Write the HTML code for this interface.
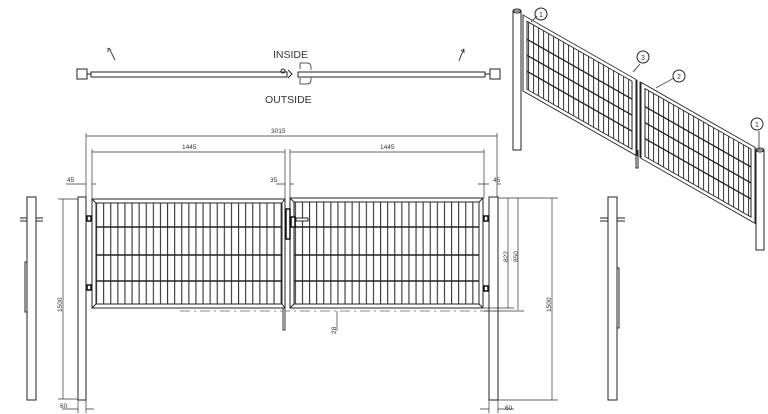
<!DOCTYPE html>
<html><head><meta charset="utf-8"><style>
html,body{margin:0;padding:0;background:#fff;width:768px;height:414px;overflow:hidden}
svg{display:block}
text{font-family:"Liberation Sans",sans-serif;fill:#333}
</style></head><body>
<svg width="768" height="414" viewBox="0 0 768 414" xmlns="http://www.w3.org/2000/svg">
<defs>
<pattern id="vb" x="96" y="0" width="7.1" height="10" patternUnits="userSpaceOnUse">
<rect x="0" y="0" width="1.1" height="10" fill="#333"/>
</pattern>
<pattern id="vbi" x="0" y="0" width="5" height="10" patternUnits="userSpaceOnUse">
<rect x="0" y="0" width="1" height="10" fill="#333"/>
</pattern>
</defs>
<g fill="none" stroke="#222" stroke-width="1">
<rect x="77" y="69" width="10" height="10" fill="#fff"/>
<rect x="490" y="69" width="10" height="10" fill="#fff"/>
<rect x="91" y="72" width="196" height="5"/>
<rect x="298" y="72" width="187" height="5"/>
<path d="M87 74h4M485 74h5"/>
<path d="M300 63h7q4 0 4 4v3M300 84h7q4 0 4 -4v-3M300 63v6M300 78v6" stroke="#555"/>
<circle cx="283" cy="71" r="2"/>
<path d="M288 70l4 4-4 4"/>
<path d="M115 60q-3 -6 -6 -12M108 48l0 4M108 48l3 2M459 61q2 -6 5 -12M464 49l-3 2M464 49l0 4" stroke="#444"/>
</g>
<text x="273" y="58" font-size="10.5">INSIDE</text>
<text x="265" y="103" font-size="10.5">OUTSIDE</text>

<g fill="none" stroke="#222" stroke-width="1">
<rect x="78" y="197" width="8" height="203"/>
<rect x="489" y="197" width="9" height="203"/>
<rect x="92" y="199" width="193" height="109"/>
<rect x="96" y="203" width="186" height="101"/>
<rect x="290" y="198" width="193" height="110"/>
<rect x="294" y="202" width="185" height="102"/>
<path d="M92 199l4 4M285 199l-3 4M92 308l4-4M285 308l-3-4M290 198l4 4M483 198l-4 4M290 308l4-4M483 308l-4-4"/>
</g>
<rect x="96" y="203" width="186" height="101" fill="url(#vb)"/>
<rect x="294" y="202" width="185" height="102" fill="url(#vb)"/>
<g stroke="#222" stroke-width="1.4">
<path d="M96 227h186M96 255h186M96 281h186M294 227h185M294 255h185M294 281h185"/>
</g>
<g fill="#fff" stroke="#111" stroke-width="1.5">
<rect x="87" y="216" width="4" height="5"/><rect x="87" y="285" width="4" height="5"/>
<rect x="484" y="216" width="4" height="5"/><rect x="484" y="286" width="4" height="5"/>
<rect x="286" y="209" width="4" height="30"/>
<rect x="291" y="217" width="4" height="10"/>
</g>
<path d="M296 218h12v3h-12z" fill="#fff" stroke="#222"/>
<path d="M283 308v22h2v-22" fill="none" stroke="#333"/>
<path d="M180 311h320" stroke="#888" stroke-dasharray="10 4 2 4" fill="none"/>

<g fill="none" stroke="#333" stroke-width="0.7">
<path d="M86 133v64M497 133v64M86 136h411"/>
<path d="M92 149v50M285 149v50M290 149v49M484 149v49M92 152h193M290 152h194"/>
<path d="M66 184h20M92 184h4M276 184h9M290 184h4M478 184h11M497 184h4"/>
<path d="M63 199v200M58 199h20M58 399h20"/>
<path d="M498 198h60M498 400h60M552 198v202M508 198v110M518 198v112M484 308h30M484 311h40"/>
<path d="M337 311v20"/>
<path d="M62 409h16M86 409h8M78 400v13M86 400v13M489 400v13M498 400v13M480 409h9M498 409h16"/>
</g>
<g font-size="6.5">
<text x="271" y="133">3015</text>
<text x="182" y="149">1445</text>
<text x="380" y="149">1445</text>
<text x="67" y="182">45</text>
<text x="270" y="182">35</text>
<text x="493" y="182">45</text>
<text x="60" y="408">60</text>
<text x="505" y="410">60</text>
<text transform="translate(62 312) rotate(-90)">1500</text>
<text transform="translate(551 312) rotate(-90)">1500</text>
<text transform="translate(508 262) rotate(-90)">822</text>
<text transform="translate(518 262) rotate(-90)">850</text>
<text transform="translate(336 334) rotate(-90)">28</text>
</g>

<g fill="none" stroke="#222" stroke-width="1">
<rect x="27" y="197" width="9" height="203"/>
<rect x="608" y="197" width="9" height="203"/>
<path d="M20 218h7M36 218h7M20 221h7M36 221h7M600 218h8M617 218h8M600 221h8M617 221h8"/>
<path d="M25 262h2v50h-2zM617 268h2v60h-2z"/>
</g>

<g fill="none" stroke="#222" stroke-width="1">
<rect x="513" y="11" width="8" height="139"/>
<ellipse cx="517" cy="11" rx="4" ry="2"/>
<rect x="756" y="150" width="8" height="100"/>
<ellipse cx="760" cy="150" rx="4" ry="2"/>
<g transform="translate(523 15) skewY(29.7)">
<rect x="0" y="0" width="113" height="76"/>
<rect x="4" y="4" width="105" height="68"/>
<rect x="118" y="0" width="114" height="76"/>
<rect x="122" y="4" width="106" height="68"/>
<rect x="4" y="4" width="105" height="68" fill="url(#vbi)" stroke="none"/>
<rect x="122" y="4" width="106" height="68" fill="url(#vbi)" stroke="none"/>
<path d="M4 22h105M4 38h105M4 54h105M122 22h106M122 38h106M122 54h106" stroke-width="1.5"/>
<path d="M114 0v76M117 0v76"/>
</g>
<path d="M636 150v18h2v-18"/>
<path d="M531 22l6-6M633 72l7-8M656 88l18-10M759 131v19" stroke="#555"/>
<circle cx="541" cy="14" r="6"/><circle cx="643" cy="57" r="6"/>
<circle cx="679" cy="76" r="6"/><circle cx="757" cy="124" r="6"/>
</g>
<g font-size="7" text-anchor="middle">
<text x="541" y="17">1</text><text x="643" y="60">3</text>
<text x="679" y="79">2</text><text x="757" y="127">1</text>
</g>
</svg>
</body></html>
